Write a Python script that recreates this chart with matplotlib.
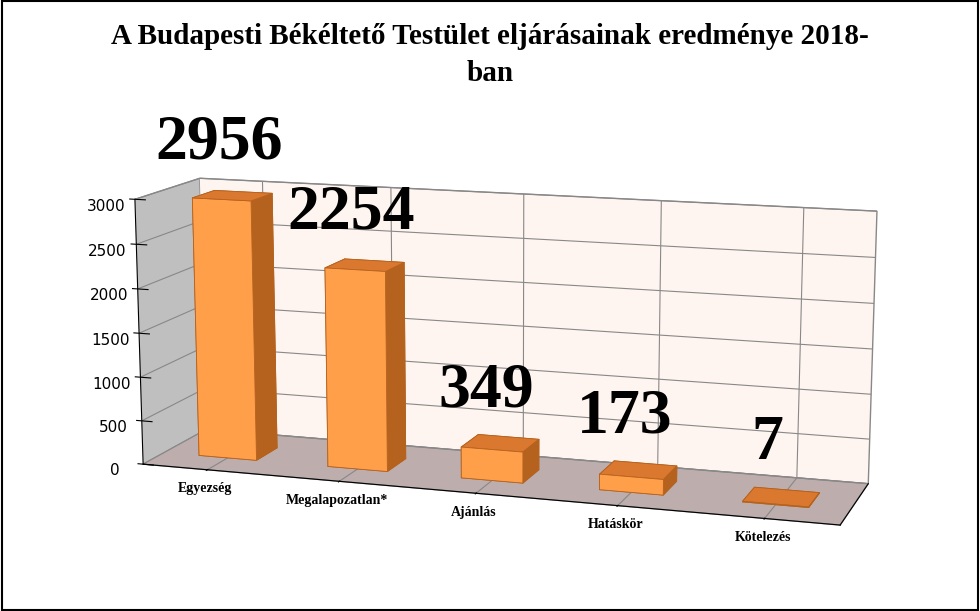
import numpy as np
import matplotlib.pyplot as plt
from mpl_toolkits.mplot3d import Axes3D  # noqa

categories = ['Egyezség', 'Megalapozatlan*', 'Ajánlás', 'Hatáskör', 'Kötelezés']
values = [2956, 2254, 349, 173, 7]
yticks = [0, 500, 1000, 1500, 2000, 2500, 3000]

plt.rcParams['font.family'] = ['Liberation Serif', 'DejaVu Serif']

fig = plt.figure(figsize=(9.8, 6.11), dpi=100)
fig.patch.set_facecolor('white')
ax = fig.add_axes([-0.1, -0.2, 1.2, 1.25], projection='3d')
ax.set_proj_type('persp', focal_length=0.6)
ax.view_init(elev=12, azim=-72)

xs = np.arange(len(categories))
w, d = 0.45, 0.35
# face order: bottom, top, front, back, left, right
face_cols = ['#C06A24', '#D9782E', '#FF9F4A', '#FF9F4A', '#B5621F', '#B5621F']
ax.bar3d(xs - w / 2, np.zeros(len(xs)) - d / 2, np.zeros(len(xs)), w, d, values,
         color=face_cols * len(values), shade=False, edgecolor='#B5621F',
         linewidth=0.6)

for x, v in zip(xs, values):
    ax.text(x - 0.1, 0, v + 250, str(v), fontsize=46, fontweight='bold',
            ha='center', va='bottom', zdir=None)

ax.set_xlim(-0.5, len(categories) - 0.5)
ax.set_ylim(-0.5, 0.5)
ax.set_zlim(0, 3000)
ax.set_xticks(xs)
ax.set_xticklabels(categories, fontsize=10, fontweight='bold')
ax.set_yticks([])
ax.set_zticks(yticks)
ax.set_zticklabels([str(t) for t in yticks], fontsize=11, family='DejaVu Sans')
ax.zaxis._axinfo['juggled'] = (1, 2, 0)
ax.set_box_aspect((4.2, 0.9, 1.6))

ax.zaxis.set_pane_color((0.74, 0.68, 0.68, 1))
ax.xaxis.set_pane_color((0.75, 0.75, 0.75, 1))
ax.yaxis.set_pane_color((1.0, 0.96, 0.94, 1))
ax.xaxis._axinfo['grid'].update(color='#888888', linewidth=0.8)
ax.zaxis._axinfo['grid'].update(color='#888888', linewidth=0.8)
ax.yaxis._axinfo['grid'].update(color=(1, 1, 1, 0))
for a in (ax.xaxis, ax.yaxis, ax.zaxis):
    a.pane.set_edgecolor('#888888')

fig.text(0.5, 0.91, 'A Budapesti Békéltető Testület eljárásainak eredménye 2018-\nban',
         ha='center', va='center', fontsize=21, fontweight='bold', linespacing=1.5)
fig.add_artist(plt.Rectangle((0.002, 0.002), 0.996, 0.996, transform=fig.transFigure,
                             fill=False, edgecolor='black', linewidth=1.5))

fig.savefig('out.png', dpi=100)
